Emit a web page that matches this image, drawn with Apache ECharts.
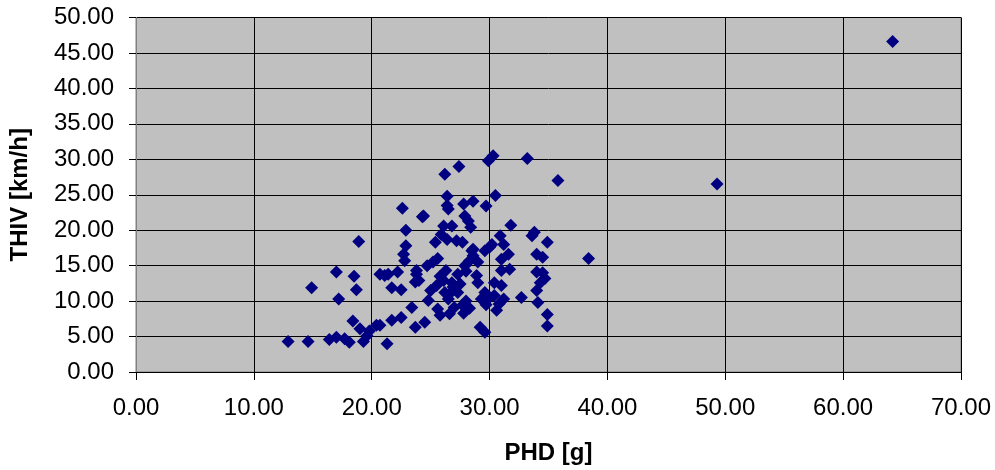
<!DOCTYPE html>
<html>
<head>
<meta charset="utf-8">
<script src="https://cdn.jsdelivr.net/npm/echarts@6/dist/echarts.min.js"></script>
<style>
html,body{margin:0;padding:0;background:#fff;}
#chart{width:995px;height:470px;}
</style>
</head>
<body>
<div id="chart"></div>
<script>
// PHD [g] values
const phd = [
64.2,49.3,38.4,35.8,33.2,30.3,29.9,27.4,26.2,30.5,
26.4,26.4,26.5,27.8,28.6,29.7,27.9,28.2,28.4,24.4,
22.6,26.1,26.8,25.9,22.9,25.4,26.4,27.2,27.7,28.6,
28.5,29.6,30.0,30.2,31.8,30.9,31.2,33.8,33.6,34.9,
22.9,22.7,22.8,18.9,28.6,28.3,27.9,25.2,24.7,25.6,
29.0,31.6,31.0,34.0,34.5,31.7,31.0,34.0,34.5,34.3,
30.4,31.0,34.0,32.7,31.2,30.4,34.1,30.6,34.9,34.9,
22.2,21.4,20.7,21.1,21.7,22.5,23.8,23.8,23.7,24.0,
25.5,26.1,26.8,26.2,26.6,27.3,27.7,27.0,25.6,24.8,
23.4,22.5,21.7,23.7,24.5,25.8,26.6,28.9,29.0,29.6,
29.3,30.0,29.2,29.6,21.3,20.7,20.4,19.6,19.0,18.4,
18.1,17.7,17.0,16.4,19.3,14.6,12.9,14.9,17.0,18.5,
18.7,17.2,24.3,26.3,27.3,28.0,25.8,26.5,28.0,28.3,
27.8,29.7,30.8,19.8,34.7,26.9,25.0,27.5
];
// THIV [km/h] values
const thiv = [
46.6,26.5,16.0,27.0,30.1,30.5,29.8,29.0,27.9,24.9,
24.8,23.5,23.0,23.7,24.1,23.4,22.0,21.3,20.4,22.0,
23.1,20.6,20.6,19.4,20.0,18.3,18.7,18.5,18.3,17.3,
17.1,17.1,17.6,18.0,20.7,19.2,18.0,19.7,19.2,18.3,
17.8,16.6,15.7,18.4,16.4,15.7,15.0,15.5,15.0,16.0,
15.5,16.6,15.9,16.6,16.2,14.5,14.3,14.1,14.0,12.6,
12.6,12.2,11.5,10.5,10.3,10.8,9.8,8.7,8.1,6.5,
14.1,13.8,13.8,13.6,11.9,11.6,13.8,14.3,12.7,12.9,
12.2,12.9,12.6,11.2,11.0,11.2,9.4,9.1,8.9,10.1,
9.1,7.7,7.3,6.3,7.0,8.0,8.2,13.6,12.6,11.2,
10.3,10.5,6.3,5.6,4.0,6.6,6.6,5.1,6.1,7.2,
4.2,4.7,4.9,4.6,4.3,4.3,4.3,11.9,14.1,13.5,
11.6,10.3,21.9,14.3,13.8,14.2,13.5,10.3,10.0,9.0,
8.3,9.5,9.6,5.8,13.2,12.0,11.5,12.4
];
const xTicks = {min: 0, max: 70, step: 10};
const yTicks = {min: 0, max: 50, step: 5};

const points = phd.map((x, i) => [x, thiv[i]]);

const chart = echarts.init(document.getElementById('chart'), null, {renderer: 'canvas'});
const font = '"Liberation Sans", Arial, sans-serif';
chart.setOption({
  animation: false,
  backgroundColor: '#ffffff',
  grid: {
    left: 136, right: 34, top: 17.5, bottom: 97,
    show: true, backgroundColor: '#C0C0C0', borderColor: '#808080', borderWidth: 1
  },
  xAxis: {
    type: 'value', min: xTicks.min, max: xTicks.max, interval: xTicks.step,
    name: 'PHD [g]', nameLocation: 'middle', nameGap: 69,
    nameTextStyle: {fontFamily: font, fontSize: 24, fontWeight: 'bold', color: '#000'},
    axisLine: {show: true, onZero: false, lineStyle: {color: '#000', width: 1}},
    axisTick: {show: true, inside: false, length: 8, lineStyle: {color: '#000'}},
    axisLabel: {fontFamily: font, fontSize: 24, color: '#000', margin: 24,
      formatter: v => v.toFixed(2)},
    splitLine: {show: true, lineStyle: {color: '#000', width: 1}}
  },
  yAxis: {
    type: 'value', min: yTicks.min, max: yTicks.max, interval: yTicks.step,
    name: 'THIV [km/h]', nameLocation: 'middle', nameGap: 104, nameRotate: 90,
    nameTextStyle: {fontFamily: font, fontSize: 24, fontWeight: 'bold', color: '#000'},
    axisLine: {show: true, onZero: false, lineStyle: {color: '#808080', width: 1}},
    axisTick: {show: true, inside: false, length: 7, lineStyle: {color: '#000'}},
    axisLabel: {fontFamily: font, fontSize: 24, color: '#000', margin: 22,
      formatter: v => v.toFixed(2)},
    splitLine: {show: true, lineStyle: {color: '#000', width: 1}}
  },
  series: [{
    type: 'scatter',
    data: points,
    symbol: 'diamond',
    symbolSize: 13,
    itemStyle: {color: '#000080', opacity: 1}
  }]
});
</script>
</body>
</html>
